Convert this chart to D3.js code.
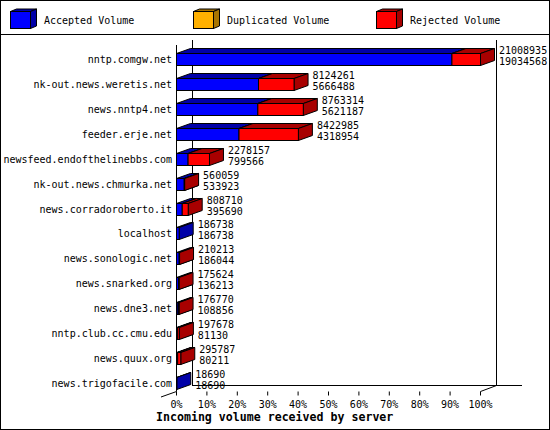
<!DOCTYPE html>
<html lang="en" dir="ltr">

<head>
    <meta charset="utf-8">
    <title>Incoming volume received by server</title>
    <script src="https://d3js.org/d3.v7.min.js"></script>
    <style>
        body { margin: 0; background: #fff; }
        text { font-family: "DejaVu Sans Mono", "Liberation Mono", monospace; font-size: 10px; fill: #000; }
    </style>
</head>

<body>
    <script>
        // data
        const hosts = [
            'nntp.comgw.net', 'nk-out.news.weretis.net', 'news.nntp4.net', 'feeder.erje.net',
            'newsfeed.endofthelinebbs.com', 'nk-out.news.chmurka.net', 'news.corradoroberto.it',
            'localhost', 'news.sonologic.net', 'news.snarked.org', 'news.dne3.net',
            'nntp.club.cc.cmu.edu', 'news.quux.org', 'news.trigofacile.com'
        ]
        const totalVolume = [21008935, 8124261, 8763314, 8422985, 2278157, 560059, 808710,
            186738, 210213, 175624, 176770, 197678, 295787, 18690]
        const acceptedVolume = [19034568, 5666488, 5621187, 4318954, 799566, 533923, 395690,
            186738, 186044, 136213, 108856, 81130, 80211, 18690]
        const duplicatedVolume = hosts.map(() => 0)
        const seriesNames = ['Accepted Volume', 'Duplicated Volume', 'Rejected Volume']
        const percentTicks = [0, 10, 20, 30, 40, 50, 60, 70, 80, 90, 100]

        const colors = [
            { face: '#0000ff', dark: '#0000a8' },
            { face: '#ffb000', dark: '#a87400' },
            { face: '#ff0000', dark: '#a80000' }
        ]

        const m = { width: 550, height: 430, left: 176, right: 480, top: 46.5, bottom: 395.5 }
        const depth = { dx: 14, dy: -5 }
        const floor = { dx: 16, dy: -6 }

        const svg = d3.select('body').append('svg')
            .attr('width', m.width)
            .attr('height', m.height)

        // frame and legend strip
        svg.append('rect')
            .attr('x', 0.5).attr('y', 0.5)
            .attr('width', m.width - 1).attr('height', m.height - 1)
            .attr('fill', '#fff').attr('stroke', '#000')
        svg.append('line')
            .attr('x1', 0).attr('x2', m.width)
            .attr('y1', 34.5).attr('y2', 34.5)
            .attr('stroke', '#000')

        const x = d3.scaleLinear()
            .domain([0, d3.max(totalVolume)])
            .range([m.left, m.right])

        const xPct = d3.scaleLinear()
            .domain([0, 100])
            .range([m.left, m.right])

        const y = d3.scaleBand()
            .domain(hosts)
            .range([m.top, m.bottom])

        // draws a 3d box: front, top and side faces
        function box(g, x0, x1, top, h, dx, dy, c) {
            g.append('polygon')
                .attr('points', [[x0, top], [x1, top], [x1 + dx, top + dy], [x0 + dx, top + dy]].join(' '))
                .attr('fill', c.dark).attr('stroke', '#000')
            g.append('polygon')
                .attr('points', [[x1, top], [x1 + dx, top + dy], [x1 + dx, top + h + dy], [x1, top + h]].join(' '))
                .attr('fill', c.dark).attr('stroke', '#000')
            g.append('rect')
                .attr('x', x0).attr('y', top)
                .attr('width', x1 - x0).attr('height', h)
                .attr('fill', c.face).attr('stroke', '#000')
        }

        // legend
        const legendX = [10, 193, 376]
        seriesNames.forEach(function (name, i) {
            const lg = svg.append('g')
            box(lg, legendX[i] + 0.5, legendX[i] + 20.5, 11.5, 17, 6, -2.5, colors[i])
            lg.append('text')
                .attr('x', legendX[i] + 34)
                .attr('y', 24)
                .text(name)
        })

        // walls and floor
        const axes = svg.append('g').attr('stroke', '#000').attr('fill', 'none')
        const yBottom = 391.5
        axes.append('line')
            .attr('x1', m.left + 0.5).attr('x2', m.left + 0.5)
            .attr('y1', 45).attr('y2', yBottom)
        axes.append('line')
            .attr('x1', m.left + floor.dx + 0.5).attr('x2', m.left + floor.dx + 0.5)
            .attr('y1', 40).attr('y2', yBottom + floor.dy)
        axes.append('line')
            .attr('x1', m.right + floor.dx + 0.5).attr('x2', m.right + floor.dx + 0.5)
            .attr('y1', 40).attr('y2', yBottom + floor.dy)
        axes.append('line')
            .attr('x1', m.left + floor.dx).attr('x2', 522)
            .attr('y1', yBottom + floor.dy).attr('y2', yBottom + floor.dy)
        axes.append('line')
            .attr('x1', m.left - 15).attr('y1', yBottom + 5.5)
            .attr('x2', m.left + 0.5).attr('y2', yBottom)
        axes.append('line')
            .attr('x1', m.right + 0.5).attr('y1', yBottom)
            .attr('x2', m.right + floor.dx + 0.5).attr('y2', yBottom + floor.dy)

        // percent axis
        const xAxis = svg.append('g')
            .attr('transform', 'translate(0,' + yBottom + ')')
            .call(d3.axisBottom(xPct)
                .tickValues(percentTicks)
                .tickSize(4)
                .tickPadding(5)
                .tickFormat(d => d + '%'))
        xAxis.select('.domain').remove()
        xAxis.selectAll('line').attr('stroke', '#000')
        xAxis.selectAll('text')
            .attr('font-family', '"DejaVu Sans Mono", monospace')
            .attr('font-size', 10)

        svg.append('text')
            .attr('x', 156)
            .attr('y', 421)
            .style('font-size', '11.6px')
            .style('font-weight', 'bold')
            .text('Incoming volume received by server')

        // bars
        const bars = svg.append('g')
        hosts.forEach(function (host, i) {
            const center = Math.round(y(host) + y.bandwidth() / 2)
            const top = center - 6 + 0.5
            const stack = [acceptedVolume[i], duplicatedVolume[i], totalVolume[i] - acceptedVolume[i] - duplicatedVolume[i]]
            let acc = 0
            stack.forEach(function (v, k) {
                if (v <= 0) return
                box(bars, x(acc) + 0.5, x(acc + v) + 0.5, top, 12, depth.dx, depth.dy, colors[k])
                acc += v
            })

            // host label
            svg.append('text')
                .attr('x', 172)
                .attr('y', center + 4)
                .attr('text-anchor', 'end')
                .text(host)

            // value labels
            const lx = x(totalVolume[i]) + 19
            svg.append('text')
                .attr('x', lx)
                .attr('y', center - 5.5)
                .text(totalVolume[i])
            svg.append('text')
                .attr('x', lx)
                .attr('y', center + 6)
                .text(acceptedVolume[i])
        })
    </script>
</body>

</html>
